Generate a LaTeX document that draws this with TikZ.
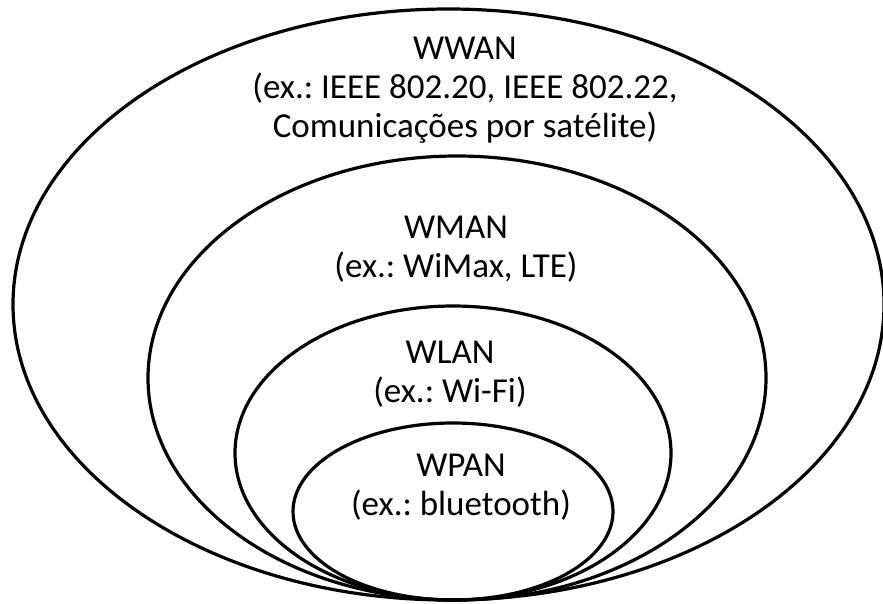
\documentclass[tikz,border=0pt]{standalone}
\usepackage{fontspec}
\setmainfont{Carlito}
\frenchspacing
\begin{document}
\frenchspacing
\begin{tikzpicture}[x=1pt,y=-1pt,
  ring/.style={line width=3.2pt,draw=black},
  lbl/.style={align=center,font=\fontsize{35}{39}\selectfont\frenchspacing,inner sep=0pt}]
\useasboundingbox (0,0) rectangle (883,603);
\fill[white] (0,0) rectangle (883,603);
\draw[ring] (448.5,304.5) ellipse [x radius=435.5pt,y radius=295.5pt];
\draw[ring] (457,378) ellipse [x radius=309pt,y radius=222pt];
\draw[ring] (453,453) ellipse [x radius=218pt,y radius=147pt];
\draw[ring] (453,511.5) ellipse [x radius=160pt,y radius=88.5pt];
\node[lbl] (wwan) at (465,90) {WWAN\\(ex.: IEEE 802.20, IEEE 802.22,\\Comunicações por satélite)};
\node[lbl] (wman) at (456,249) {WMAN\\(ex.: WiMax, LTE)};
\node[lbl] (wlan) at (450,374) {WLAN\\(ex.: Wi-Fi)};
\node[lbl] (wpan) at (461,487) {WPAN\\(ex.: bluetooth)};
\end{tikzpicture}
\end{document}
